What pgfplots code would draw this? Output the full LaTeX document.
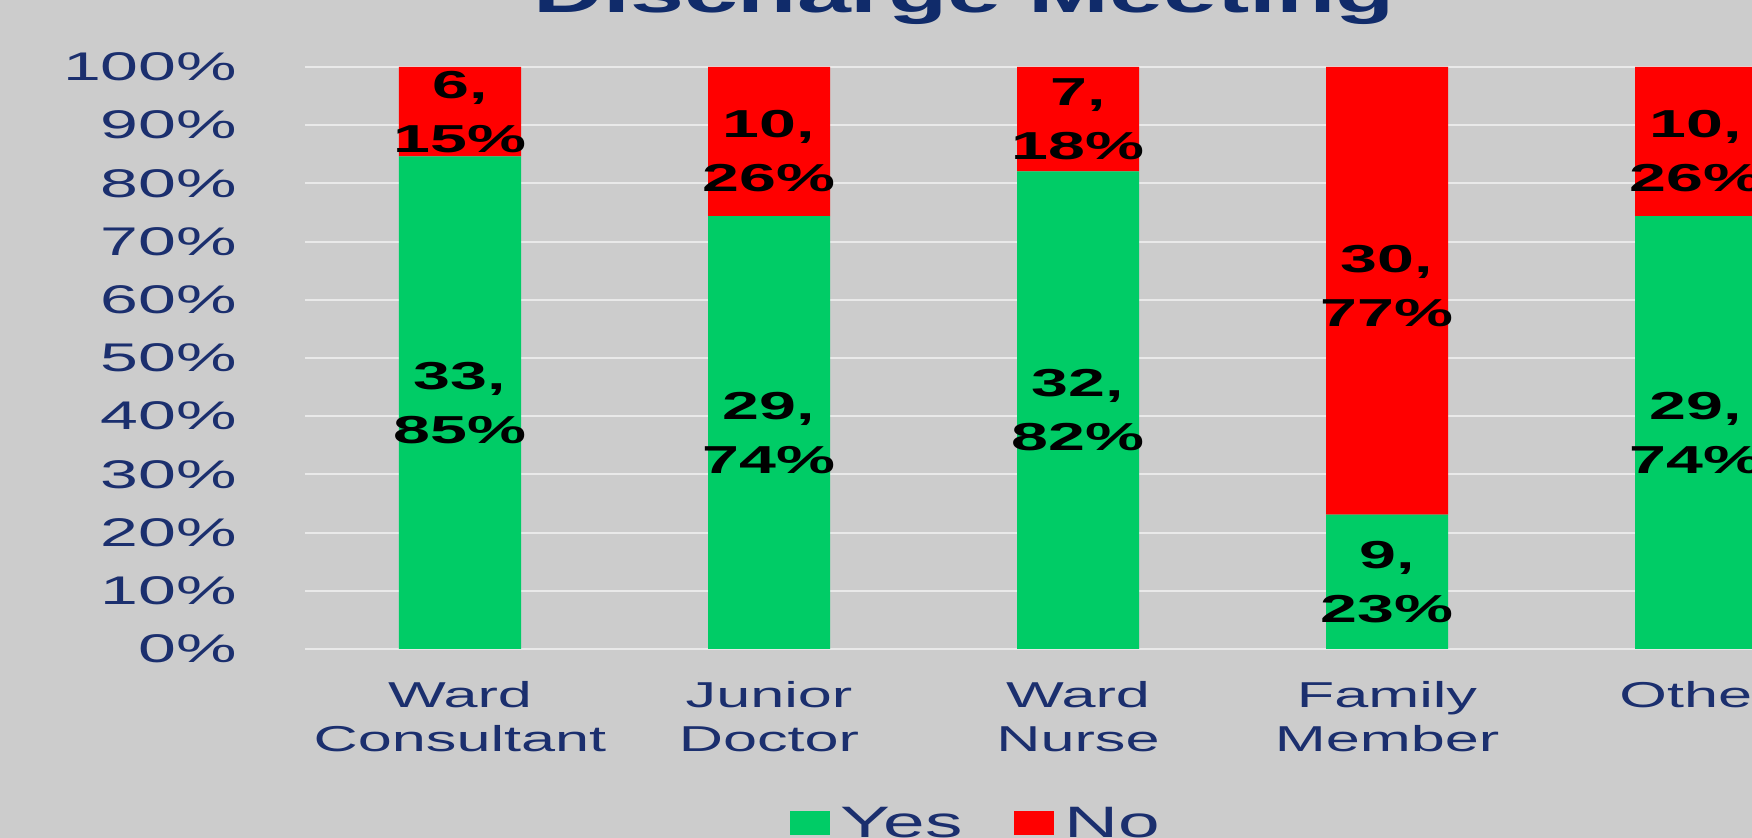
\documentclass[border=0pt]{standalone}
\usepackage{fontspec}
\setmainfont{Liberation Sans}[FakeStretch=1.7]
\usepackage{pgfplots}
\usepackage{pgfplotstable}
\pgfplotsset{compat=1.18}
\pgfkeys{/pgf/number format/assume math mode=true}
\definecolor{bg}{HTML}{CCCCCC}
\definecolor{grd}{HTML}{E9E9E9}
\definecolor{navy}{HTML}{1B2F6E}
\definecolor{ttl}{HTML}{102B6A}
\definecolor{yes}{HTML}{00CC66}
\definecolor{no}{HTML}{FF0000}

% shares (%) of 39 answers per role
\pgfplotstableread{
x yes   no
0 84.62 15.38
1 74.36 25.64
2 82.05 17.95
3 23.08 76.92
4 74.36 25.64
}\discharge

% label position (as placed in the chart), count, rounded share
\pgfplotstableread{
x yc    n  p
0 42.31 33 85
1 37.18 29 74
2 41.03 32 82
3 11.54 9  23
4 37.18 29 74
0 92.31 6  15
1 85.6  10 26
2 91.03 7  18
3 62.4  30 77
4 85.6  10 26
}\labels

\pgfplotsset{frame/.style={
  at={(152.75pt,94.5pt)}, anchor=south west,
  scale only axis, width=772.5pt, height=291pt,
  xmin=-0.5, xmax=4.5, ymin=0, ymax=100}}

\begin{document}
\begin{tikzpicture}
\fill[bg] (0,0) rectangle (876pt,419pt);
\begin{axis}[frame,
  ybar stacked, bar width=61pt,
  xtick={0,1,2,3,4},
  xticklabels={Ward\\Consultant,Junior\\Doctor,Ward\\Nurse,Family\\Member,Other},
  ytick={0,10,20,30,40,50,60,70,80,90,100},
  yticklabels={0\%,10\%,20\%,30\%,40\%,50\%,60\%,70\%,80\%,90\%,100\%},
  axis line style={draw=none},
  major tick length=0pt,
  ymajorgrids, grid style={grd, line width=1pt},
  xticklabel style={font=\fontsize{18}{22}\selectfont, text=navy, align=center, anchor=north, inner sep=0pt, yshift=-16pt},
  yticklabel style={font=\fontsize{20}{24}\selectfont, text=navy, anchor=east, inner sep=0pt, xshift=-34pt},
  legend style={at={(0.3136,-0.30)}, anchor=west, draw=none, fill=none, inner sep=0pt,
    font=\fontsize{22}{26}\selectfont, text=navy, legend columns=2,
    /tikz/every odd column/.append style={column sep=3pt},
    /tikz/every even column/.append style={column sep=24pt}},
]
\addplot[fill=yes, draw=none,
  legend image code/.code={\fill[yes] (0pt,-5.5pt) rectangle (20pt,6.5pt);}]
  table[x=x, y=yes]{\discharge};
\addplot[fill=no, draw=none,
  legend image code/.code={\fill[no] (0pt,-5.5pt) rectangle (20pt,6.5pt);}]
  table[x=x, y=no]{\discharge};
\legend{Yes,No}
\end{axis}
\begin{axis}[frame, hide axis, clip=false]
\addplot[draw=none, mark=none,
  visualization depends on=\thisrow{n}\as\cnt,
  visualization depends on=\thisrow{p}\as\pct,
  nodes near coords={\pgfmathprintnumber[int detect]{\cnt},\\\pgfmathprintnumber[int detect]{\pct}\%},
  every node near coord/.append style={font=\bfseries\fontsize{19.5}{27}\selectfont, align=center, anchor=center, text=black}]
  table[x=x, y=yc]{\labels};
\end{axis}
\node[anchor=base, font=\bfseries\fontsize{28.5}{34}\selectfont, text=ttl] at (482pt,412.5pt) {Discharge Meeting};
\pgfresetboundingbox
\useasboundingbox (0,0) rectangle (876pt,419pt);
\end{tikzpicture}
\end{document}
